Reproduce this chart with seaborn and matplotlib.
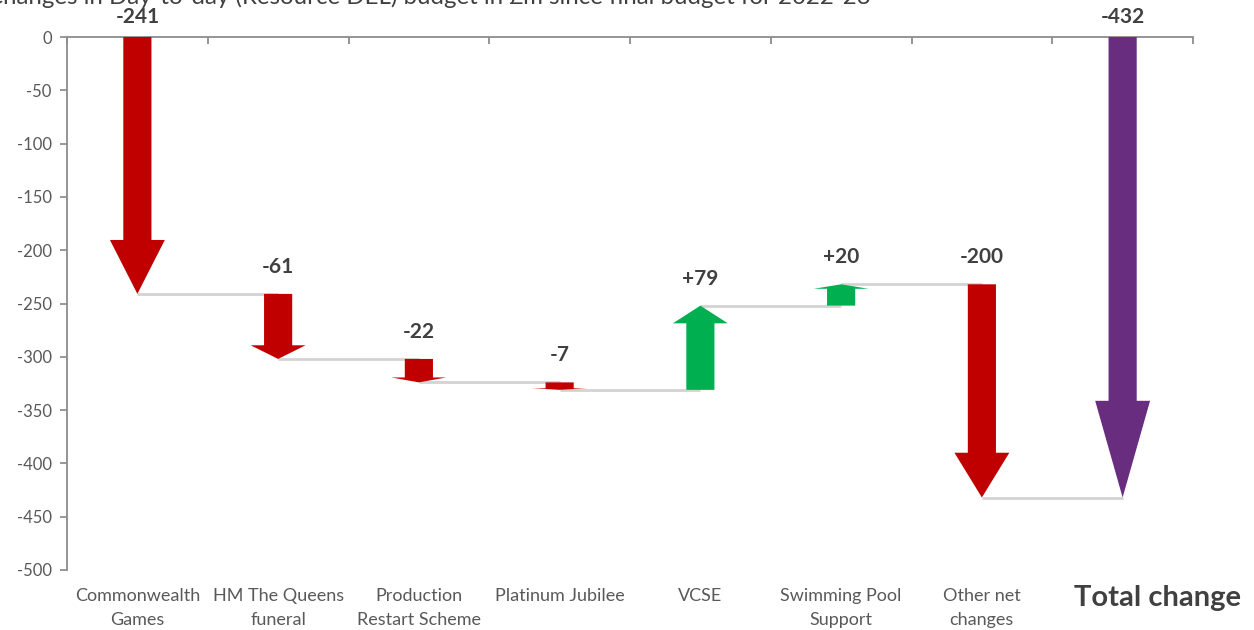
import matplotlib
matplotlib.use("Agg")
import matplotlib.pyplot as plt
import numpy as np
import seaborn as sns

# data
categories = ["Commonwealth\nGames", "HM The Queens\nfuneral", "Production\nRestart Scheme",
              "Platinum Jubilee", "VCSE", "Swimming Pool\nSupport", "Other net\nchanges", ""]
changes = [-241, -61, -22, -7, 79, 20, -200]
total_change = -432
labels = ["-241", "-61", "-22", "-7", "+79", "+20", "-200", "-432"]
title = "Changes in Day-to-day (Resource DEL) budget in £m since final budget for 2022-23"

RED = "#c00000"
GREEN = "#00b050"
PURPLE = "#692d80"
TEXT = "#404040"
AXIS = "#8c8c8c"

sns.set_theme(style="white")
plt.rcParams["font.family"] = ["Lato", "DejaVu Sans"]
plt.rcParams["axes.unicode_minus"] = False

fig = plt.figure(figsize=(12.54, 6.3), dpi=100)
ax = fig.add_axes([67 / 1254, 1 - 570 / 630, (1193 - 67) / 1254, (570 - 37) / 630])

starts = np.concatenate([[0], np.cumsum(changes)[:-1]])
ends = np.cumsum(changes)
x = np.arange(len(changes))

# connector lines
for i, lvl in enumerate(ends):
  ax.plot([i, i + 1], [lvl, lvl], color="#d3d3d3", lw=2, zorder=1, solid_capstyle="butt")

def draw_arrow(xc, y0, y1, color):
  dy = y1 - y0
  ax.arrow(xc, y0, 0, dy, width=0.2, head_width=0.39, head_length=abs(dy) * 0.21,
           length_includes_head=True, color=color, lw=0, zorder=3)

for xi, s, c in zip(x, starts, changes):
  draw_arrow(xi, s, s + c, RED if c < 0 else GREEN)
draw_arrow(len(changes), 0, total_change, PURPLE)

# value labels
label_y = [max(s, s + c) for s, c in zip(starts, changes)] + [0]
for i, (ly, txt) in enumerate(zip(label_y, labels)):
  off = 20 if i in (0, len(labels) - 1) else 27
  ax.annotate(txt, (i, ly), xytext=(0, off), textcoords="offset pixels",
              ha="center", va="center", fontsize=15, fontweight="bold", color=TEXT,
              annotation_clip=False)

ax.set_xlim(-0.5, len(categories) - 0.5)
ax.set_ylim(-500, 0)
ax.set_yticks(np.arange(-500, 1, 50))
ax.set_xticks(np.arange(len(categories)))
ax.set_xticklabels(categories)
ax.set_xticks(np.arange(len(categories) + 1) - 0.5, minor=True)

for side in ("bottom", "right"):
  ax.spines[side].set_visible(False)
for side in ("left", "top"):
  ax.spines[side].set_color(AXIS)
  ax.spines[side].set_linewidth(1.3)

ax.tick_params(axis="y", which="major", left=True, direction="out", length=5,
               color=AXIS, labelsize=12, labelcolor="#595959", pad=6)
ax.tick_params(axis="x", which="major", bottom=False, top=False, labelsize=13,
               labelcolor="#595959", pad=7)
ax.tick_params(axis="x", which="minor", bottom=False, top=True, direction="in",
               length=5, color=AXIS, width=1.3)
for lbl in ax.get_xticklabels():
  lbl.set_linespacing(1.6)
ax.grid(False)

fig.text(1157 / 1254, 1 - 598 / 630, "Total change", ha="center", va="center",
         fontsize=21, fontweight="bold", color=TEXT)
fig.text(-13 / 1254, 1 - 4 / 630, title, ha="left", va="baseline",
         fontsize=17.3, color=TEXT)

fig.savefig("out.png", dpi=100)
